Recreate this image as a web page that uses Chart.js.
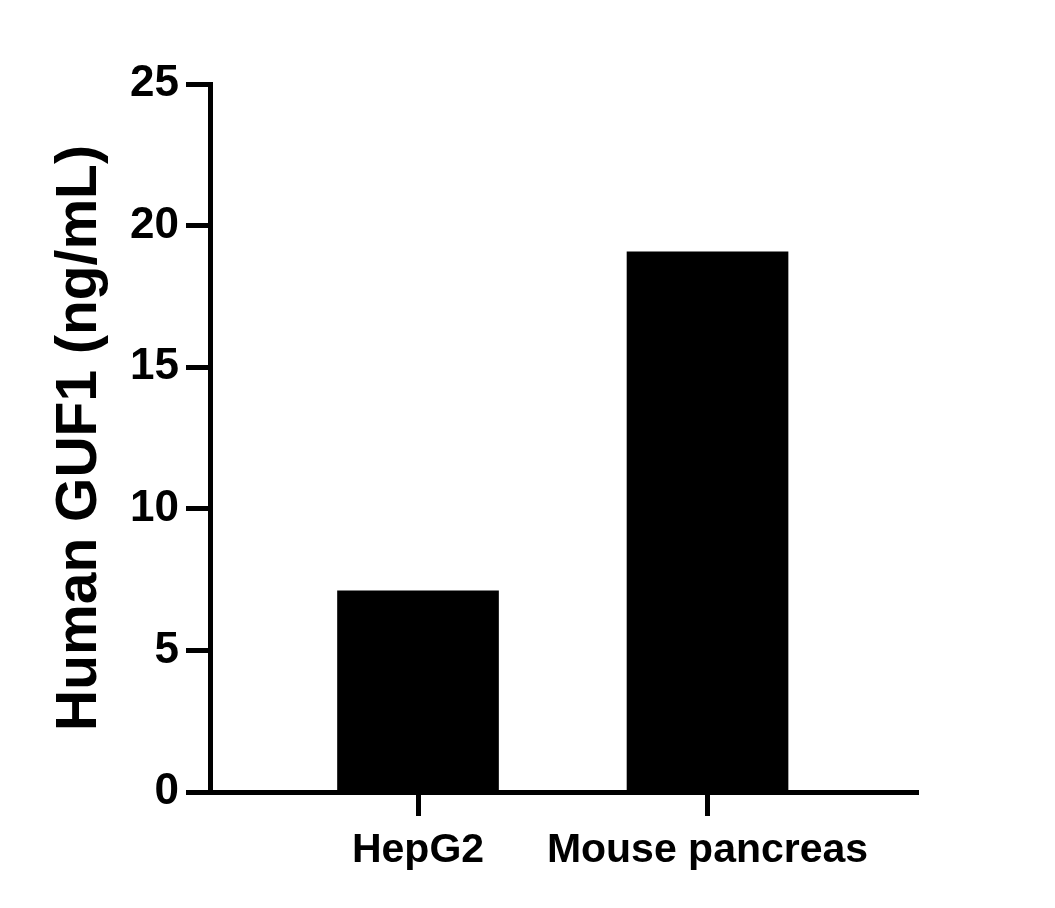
<!DOCTYPE html>
<html>
<head>
<meta charset="utf-8">
<script src="https://cdn.jsdelivr.net/npm/chart.js@4"></script>
<style>
  html, body { margin: 0; padding: 0; background: #fff; }
</style>
</head>
<body>
<canvas id="bar" width="1055" height="908"></canvas>
<script>
// data
const categories = ['HepG2', 'Mouse pancreas'];
const positions = [1, 2];
const values = [7.1, 19.07];
const yTicks = [0, 5, 10, 15, 20, 25];

const font = "'Liberation Sans', Arial, sans-serif";

const ctx = document.getElementById('bar').getContext('2d');

new Chart(ctx, {
    type: 'bar',
    data: {
        datasets: [{
            data: positions.map((p, i) => ({ x: p, y: values[i] })),
            backgroundColor: '#000',
            borderWidth: 0,
            barThickness: 161
        }]
    },
    options: {
        responsive: false,
        animation: false,
        devicePixelRatio: 1,
        layout: { padding: { left: 46, right: 137, top: 84, bottom: 0 } },
        plugins: {
            legend: { display: false },
            tooltip: { enabled: false }
        },
        scales: {
            x: {
                type: 'linear',
                offset: false,
                min: 0.2815,
                max: 2.727,
                afterBuildTicks: s => { s.ticks = positions.map(v => ({ value: v })); },
                afterFit: s => { s.height = 116; },
                ticks: {
                    callback: v => categories[positions.indexOf(v)],
                    color: '#000',
                    font: { family: font, size: 41, weight: 'bold' },
                    padding: 10,
                    maxRotation: 0
                },
                grid: {
                    offset: false,
                    drawOnChartArea: false,
                    drawTicks: true,
                    tickLength: 24,
                    tickWidth: 5,
                    tickColor: '#000'
                },
                border: { display: true, width: 5, color: '#000' }
            },
            y: {
                min: 0,
                max: 25,
                afterBuildTicks: s => { s.ticks = yTicks.map(v => ({ value: v })); },
                afterFit: s => { s.width = 164; },
                ticks: {
                    color: '#000',
                    font: { family: font, size: 44, weight: 'bold' },
                    padding: 7
                },
                grid: {
                    drawOnChartArea: false,
                    drawTicks: true,
                    tickLength: 24,
                    tickWidth: 5,
                    tickColor: '#000'
                },
                border: { display: true, width: 5, color: '#000' },
                title: {
                    display: true,
                    text: 'Human GUF1 (ng/mL)',
                    color: '#000',
                    font: { family: font, size: 57, weight: 'bold' },
                    padding: 0
                }
            }
        }
    }
});
</script>
</body>
</html>
